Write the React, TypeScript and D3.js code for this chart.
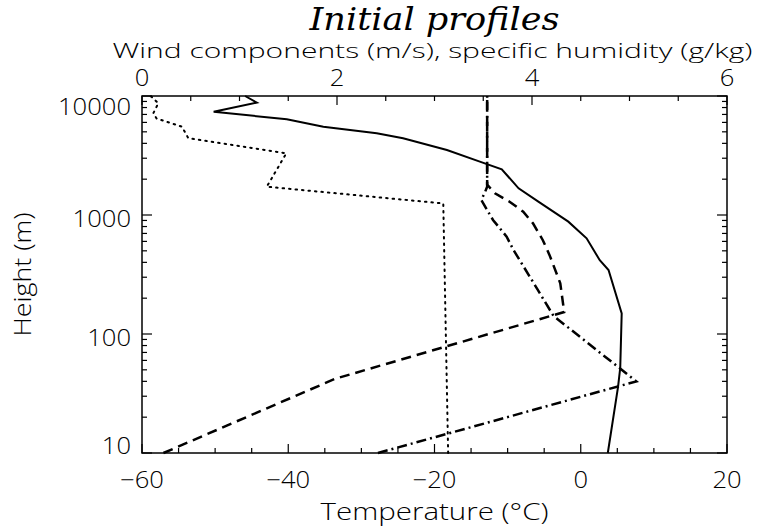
import React from 'react';
import * as d3 from 'd3';

// Temperature profile (solid, bottom axis, deg C)
const tempHeights = [10, 36, 52, 149, 345, 417, 637, 879, 1294, 1675, 2420, 2806, 3515, 4416, 4864, 5520, 6370, 7380, 8790, 10000];
const tempValues = [3.7, 5.1, 5.4, 5.6, 3.8, 2.6, 0.8, -1.7, -5.8, -8.5, -10.8, -13.8, -18.3, -24.3, -27.9, -35.2, -40.2, -50.2, -44.3, -45.9];

// Specific humidity (dotted, top axis, g/kg)
const qHeights = [10, 1250, 1730, 3300, 4420, 5520, 6470, 7160, 8690, 9820, 10000];
const qValues = [3.14, 3.09, 1.28, 1.48, 0.475, 0.41, 0.15, 0.116, 0.167, 0.1, 0.08];

// Wind component u (dashed, top axis, m/s)
const uHeights = [10, 42, 153, 267, 460, 617, 851, 1066, 1294, 1520, 1800, 10000];
const uValues = [0.22, 1.98, 4.33, 4.29, 4.18, 4.11, 4.01, 3.91, 3.77, 3.62, 3.54, 3.54];

// Wind component v (dash-dot, top axis, m/s)
const vHeights = [10, 40, 142, 242, 508, 658, 908, 1336, 1570, 1730, 10000];
const vValues = [2.42, 5.07, 4.22, 4.05, 3.81, 3.74, 3.6, 3.48, 3.52, 3.54, 3.54];

const bottomTicks = [-60, -40, -20, 0, 20];
const topTicks = [0, 2, 4, 6];
const heightTicks = [10, 100, 1000, 10000];

const W = 769;
const H = 532;
const m = { left: 142, right: 42, top: 96, bottom: 79 };
const font = '"Open Sans", "DejaVu Sans", sans-serif';

const App: React.FC = () => {
  const x = d3.scaleLinear().domain([-60, 20]).range([m.left, W - m.right]);
  const xTop = d3.scaleLinear().domain([0, 6]).range([m.left, W - m.right]);
  const y = d3.scaleLog().domain([10, 10000]).range([H - m.bottom, m.top]);

  const x0 = m.left, x1 = W - m.right, y0 = m.top, y1 = H - m.bottom;
  const cx = (x0 + x1) / 2;

  const tempLine = d3.line<number>()
    .x((d) => x(d))
    .y((_, i) => y(tempHeights[i]));
  const topLine = (hs: number[]) => d3.line<number>()
    .x((d) => xTop(d))
    .y((_, i) => y(hs[i]));

  // minor ticks
  const logTicks: { v: number; major: boolean }[] = [];
  for (let p = 1; p <= 4; p++) {
    const base = Math.pow(10, p);
    logTicks.push({ v: base, major: true });
    if (p < 4) for (let k = 2; k <= 9; k++) logTicks.push({ v: base * k, major: false });
  }
  const bTicks = d3.range(-60, 20.01, 5).map((v) => ({ v, major: v % 20 === 0 }));
  const tTicks = d3.range(0, 6.01, 0.5).map((v) => ({ v, major: v % 2 === 0 }));

  // keep end labels inside the frame like the original
  const labelY = (v: number) => Math.min(Math.max(y(v) + 3, y0 + 10), y1 - 8);
  // wide plotter-style digits
  const tl = (s: string) => s.length * 14.6;
  const fmt = (v: number) => (v < 0 ? '\u2212' + Math.abs(v) : String(v));

  return (
    <svg width={W} height={H} style={{ position: 'absolute', left: 0, top: 0, background: 'white' }}>
      {/* title */}
      <text x={cx} y={30} textAnchor="middle" fontFamily='"DejaVu Serif", serif'
        fontStyle="italic" fontSize={32} textLength={250} lengthAdjust="spacingAndGlyphs">Initial profiles</text>
      <text x={cx - 2} y={58} textAnchor="middle" fontFamily={font} fontWeight={300}
        fontSize={20} textLength={640} lengthAdjust="spacingAndGlyphs">Wind components (m/s), specific humidity (g/kg)</text>

      {/* curves */}
      <g fill="none" stroke="black">
        <path d={tempLine(tempValues)!} strokeWidth={2} />
        <path d={topLine(qHeights)(qValues)!} strokeWidth={2} strokeDasharray="1.5 5" strokeLinecap="round" />
        <path d={topLine(uHeights)(uValues)!} strokeWidth={2.5} strokeDasharray="10 6" />
        <path d={topLine(vHeights)(vValues)!} strokeWidth={2.5} strokeDasharray="10 4 2 4" />
      </g>

      {/* frame */}
      <rect x={x0} y={y0} width={x1 - x0} height={y1 - y0} fill="none" stroke="black" strokeWidth={1.5} />

      {/* ticks */}
      <g stroke="black" strokeWidth={1.2}>
        {logTicks.map((t) => {
          const len = t.major ? 10 : 5;
          const yy = y(t.v);
          return (
            <g key={'l' + t.v}>
              <line x1={x0} x2={x0 + len} y1={yy} y2={yy} />
              <line x1={x1} x2={x1 - len} y1={yy} y2={yy} />
            </g>
          );
        })}
        {bTicks.map((t) => (
          <line key={'b' + t.v} x1={x(t.v)} x2={x(t.v)} y1={y1} y2={y1 - (t.major ? 9 : 5)} />
        ))}
        {tTicks.map((t) => (
          <line key={'t' + t.v} x1={xTop(t.v)} x2={xTop(t.v)} y1={y0} y2={y0 + (t.major ? 9 : 5)} />
        ))}
      </g>

      {/* tick labels */}
      <g fontFamily={font} fontWeight={300} fontSize={23} fill="black">
        {bottomTicks.map((v) => (
          <text key={'bl' + v} x={x(v)} y={y1 + 35} textAnchor="middle"
            textLength={tl(fmt(v))} lengthAdjust="spacingAndGlyphs">{fmt(v)}</text>
        ))}
        {topTicks.map((v) => (
          <text key={'tl' + v} x={xTop(v)} y={y0 - 10} textAnchor="middle"
            textLength={tl(String(v))} lengthAdjust="spacingAndGlyphs">{v}</text>
        ))}
        {heightTicks.map((v) => (
          <text key={'hl' + v} x={x0 - 11} y={labelY(v)} dominantBaseline="central" textAnchor="end"
            textLength={tl(String(v))} lengthAdjust="spacingAndGlyphs">{v}</text>
        ))}
      </g>

      {/* axis titles */}
      <text x={cx} y={y1 + 67} textAnchor="middle" fontFamily={font} fontWeight={300}
        fontSize={23} textLength={228} lengthAdjust="spacingAndGlyphs">Temperature (°C)</text>
      <text transform={`translate(31,${(y0 + y1) / 2}) rotate(-90)`} textAnchor="middle"
        fontFamily={font} fontWeight={300} fontSize={23} textLength={124}
        lengthAdjust="spacingAndGlyphs">Height (m)</text>
    </svg>
  );
};

export default App;
